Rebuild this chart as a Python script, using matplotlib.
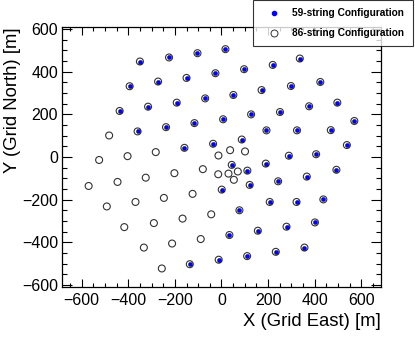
import matplotlib
matplotlib.use("Agg")
import matplotlib.pyplot as plt
from matplotlib.lines import Line2D
from matplotlib.ticker import MultipleLocator

plt.rcParams['font.family'] = ['Liberation Sans', 'DejaVu Sans']

# 59-string configuration (filled blue)
x59 = [-350, -225, -103, -26, -394, -272, -150, -437, -315, -192, -70, -360, -238, -116, -36, -159,
       17, 97, 220, 336, 51, 172, 298, 424, 7, 127, 251, 376, 497, 193, 324, 469, 570, 87, 538, 289, 406,
       44, 190, 111, 493, 366, 243, 121, 1, 207, 322, 437, 77, 401, 279, 156, 34, 356, 233, 110, -12, -136]
y59 = [448, 467, 487, 393, 332, 354, 371, 216, 236, 255, 275, 120, 140, 159, 62, 43,
       506, 412, 432, 462, 291, 314, 333, 352, 177, 200, 211, 238, 255, 125, 125, 126, 169, 82, 56, 6, 13,
       -37, -31, -64, -60, -92, -114, -131, -153, -211, -211, -199, -250, -307, -327, -346, -366, -425, -445, -465, -482, -503]

# strings added in the 86-string configuration (open only)
x_add = [-482, -282, -403, -525, -13, 37, 101, 70, 30, -14, 53, -44,
         -570, -446, -325, -202, -80, -492, -369, -247, -124, -417, -290, -167, -333, -212, -89, -256]
y_add = [101, 23, 4, -14, 7, 32, 26, -68, -78, -81, -107, -269,
         -136, -117, -97, -76, -57, -232, -211, -192, -173, -329, -310, -289, -425, -406, -385, -523]

x86 = x59 + x_add
y86 = y59 + y_add

label59 = "59-string Configuration"
label86 = "86-string Configuration"
xlabel = "X (Grid East) [m]"
ylabel = "Y (Grid North) [m]"

fig = plt.figure(figsize=(4.15, 3.42), dpi=100)
ax = fig.add_axes([0.1501, 0.1608, 0.7672, 0.7603])

ax.scatter(x86, y86, s=5.0**2, facecolors='none', edgecolors='#333333', linewidths=0.8, zorder=2)
ax.scatter(x59, y59, s=3.0**2, facecolors='#0000ff', edgecolors='#000060', linewidths=0.3, zorder=3)

ax.set_xlim(-683, 683)
ax.set_ylim(-610, 610)
ax.xaxis.set_major_locator(MultipleLocator(200))
ax.xaxis.set_minor_locator(MultipleLocator(50))
ax.yaxis.set_major_locator(MultipleLocator(200))
ax.yaxis.set_minor_locator(MultipleLocator(50))
ax.tick_params(which='both', direction='in', top=True, right=True, labelsize=11.5, width=0.8, color='black')
ax.tick_params(axis='x', which='major', length=5.5, pad=4)
ax.tick_params(axis='x', which='minor', length=3)
ax.tick_params(axis='y', which='major', length=7, pad=3)
ax.tick_params(axis='y', which='minor', length=3.5)
for sp in ax.spines.values():
    sp.set_linewidth(0.9)

ax.set_xlabel(xlabel, fontsize=13.3, loc='right', labelpad=4)
ax.set_ylabel(ylabel, fontsize=13.3, loc='top', labelpad=1)

handles = [Line2D([], [], linestyle='none', marker='o', markersize=3, markerfacecolor='#0000ff', markeredgecolor='#0000ff'),
           Line2D([], [], linestyle='none', marker='o', markersize=5, markerfacecolor='none', markeredgecolor='#333333', markeredgewidth=0.7)]
leg = fig.legend(handles, [label59, label86], loc='upper left',
                 bbox_to_anchor=(0.61, 0.851, 0.385, 0.149), mode='expand', borderaxespad=0,
                 prop={'weight': 'bold', 'size': 7.3}, frameon=True, fancybox=False, shadow=False,
                 handlelength=2.6, handletextpad=0.45, borderpad=0.8, labelspacing=1.0)
leg.get_frame().set_edgecolor('black')
leg.get_frame().set_linewidth(0.8)

fig.savefig("out.png", dpi=100)
